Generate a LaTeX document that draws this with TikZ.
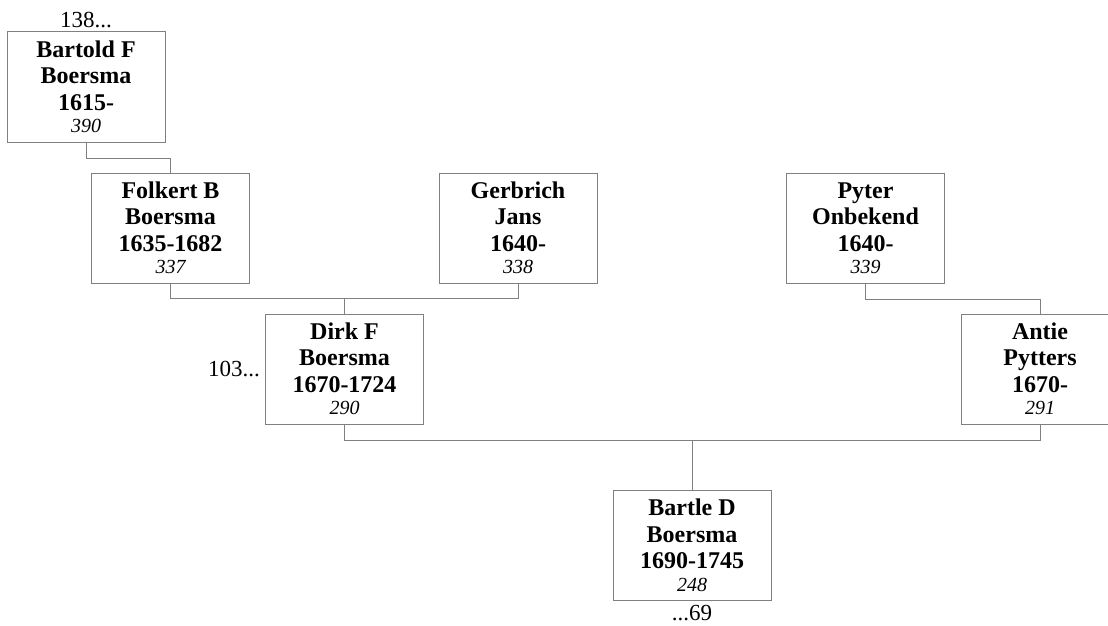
\documentclass[tikz,border=0pt]{standalone}
\usepackage{fontspec}
\setmainfont{Liberation Serif}
\usetikzlibrary{positioning}

\begin{document}
\begin{tikzpicture}[x=1pt,y=-1pt,
    person/.style={draw=gray, line width=1pt, fill=white, minimum width=158pt,
      minimum height=110pt, inner sep=0pt, align=center,
      font=\fontsize{24}{26.5}\selectfont\bfseries},
    link/.style={draw=gray, line width=1pt},
    more/.style={inner sep=1pt, font=\fontsize{23}{24}\selectfont}]
    \newcommand{\idno}[1]{\\[-4pt]{\fontsize{20}{20}\selectfont\mdseries\itshape #1}}
    \useasboundingbox (0,0) rectangle (1108,626);

    % Draw the boxes
    \node[person] (bartold) at (86,87) {Bartold F\\Boersma\\1615-\idno{390}};
    \node[person] (folkert) at (170.5,228) {Folkert B\\Boersma\\1635-1682\idno{337}};
    \node[person] (gerbrich) at (518,228) {Gerbrich\\Jans\\1640-\idno{338}};
    \node[person] (pyter) at (865.5,228) {Pyter\\Onbekend\\1640-\idno{339}};
    \node[person] (dirk) at (344.5,369) {Dirk F\\Boersma\\1670-1724\idno{290}};
    \node[person] (antie) at (1040,369) {Antie\\Pytters\\1670-\idno{291}};
    \node[person] (bartle) at (692,545.5) {Bartle D\\Boersma\\1690-1745\idno{248}};

    % Add the references
    \node[more, above=2pt of bartold] (ref138) {138...};
    \node[more, left=4pt of dirk] (ref103) {103...};
    \node[more, below=3pt of bartle] (ref69) {...69};

    % Connect the boxes
    \draw[link] (bartold.south) -- ++(0,16) -| (folkert.north);
    \draw[link] (folkert.south) -- ++(0,15) -| (gerbrich.south);
    \draw[link] (dirk.north) -- ++(0,-15);
    \draw[link] (pyter.south) -- ++(0,16) -| (antie.north);
    \draw[link] (dirk.south) -- ++(0,16) -| (antie.south);
    \draw[link] (bartle.north) -- ++(0,-50);
\end{tikzpicture}
\end{document}
